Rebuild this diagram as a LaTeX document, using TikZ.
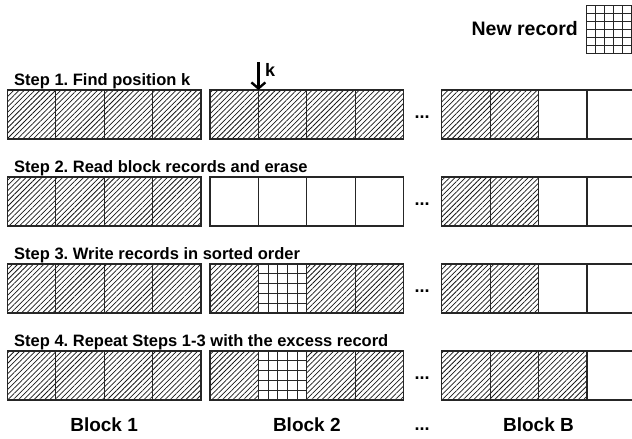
\documentclass[tikz,border=0pt]{standalone}
\usepackage{fontspec}
\setmainfont{Liberation Sans}
\frenchspacing
\usetikzlibrary{patterns.meta,calc,arrows.meta}
\tikzset{
  cellbox/.style={draw=black!85, line width=1.2pt, minimum width=48.4pt, minimum height=49pt,
    inner sep=0pt, outer sep=0pt, anchor=north west},
  hatch/.style={cellbox, pattern={Lines[angle=45,distance=3.7pt,line width=0.75pt]}, pattern color=black!90},
  gridfill/.style={cellbox, path picture={
    \foreach \i in {1,2,3,4}{
      \draw[line width=0.8pt, black!85]
        ($(path picture bounding box.south west)!\i/5!(path picture bounding box.south east)$) --
        ($(path picture bounding box.north west)!\i/5!(path picture bounding box.north east)$);
      \draw[line width=0.8pt, black!85]
        ($(path picture bounding box.south west)!\i/5!(path picture bounding box.north west)$) --
        ($(path picture bounding box.south east)!\i/5!(path picture bounding box.north east)$);
    }}},
  steplabel/.style={font=\fontsize{16.5}{18}\selectfont\bfseries, anchor=base west, inner sep=0pt},
  blocklabel/.style={font=\fontsize{19}{20}\selectfont\bfseries, inner sep=0pt},
  dotslabel/.style={font=\fontsize{18}{18}\selectfont\bfseries, inner sep=0pt},
  lastcell/.style={cellbox, minimum width=54pt},
}
\begin{document}
\begin{tikzpicture}[x=1pt,y=-1pt]
\useasboundingbox (0,0) rectangle (632,439);
\begin{scope}
\clip (0,0) rectangle (632,439);
% New record
\node[cellbox, minimum width=54pt, minimum height=47.5pt, line width=1.1pt] (nr) at (586.5,5.7) {};
\foreach \i in {1,...,5}{
  \draw[line width=0.8pt, black!85] ($(nr.north west)+(\i*9,0)$) -- ($(nr.south west)+(\i*9,0)$);
}
\foreach \i in {1,...,5}{
  \draw[line width=0.8pt, black!85] ($(nr.north west)+(0,\i*7.9)$) -- ($(nr.north east)+(0,\i*7.9)$);
}
\node[font=\fontsize{19.5}{22}\selectfont\bfseries, anchor=east, inner sep=0pt] (nrlabel) at (578,29) {New record};
% rows
\foreach \r/\y/\lab in {
  1/90/{Step 1. Find position k},
  2/177/{Step 2. Read block records and erase},
  3/264/{Step 3. Write records in sorted order},
  4/351/{Step 4. Repeat Steps 1-3 with the excess record}}{
  \node[steplabel] (s\r) at (14,\y-4.5) {\lab};
  % Block 1
  \foreach \c in {1,2,3,4}{
    \node[hatch] (r\r a\c) at (7.3+48.4*\c-48.4,\y) {};
  }
}
% Block 2
\node[hatch] (r1b1) at (210,90) {};
\node[hatch] (r1b2) at (258.4,90) {};
\node[hatch] (r1b3) at (306.8,90) {};
\node[hatch] (r1b4) at (355.2,90) {};
\node[cellbox] (r2b1) at (210,177) {};
\node[cellbox] (r2b2) at (258.4,177) {};
\node[cellbox] (r2b3) at (306.8,177) {};
\node[cellbox] (r2b4) at (355.2,177) {};
\node[hatch] (r3b1) at (210,264) {};
\node[gridfill] (r3b2) at (258.4,264) {};
\node[hatch] (r3b3) at (306.8,264) {};
\node[hatch] (r3b4) at (355.2,264) {};
\node[hatch] (r4b1) at (210,351) {};
\node[gridfill] (r4b2) at (258.4,351) {};
\node[hatch] (r4b3) at (306.8,351) {};
\node[hatch] (r4b4) at (355.2,351) {};
% Block B
\foreach \r/\y in {1/90,2/177,3/264}{
  \node[hatch] (r\r c1) at (441.7,\y) {};
  \node[hatch] (r\r c2) at (490.1,\y) {};
  \node[cellbox] (r\r c3) at (538.5,\y) {};
  \node[lastcell] (r\r c4) at (586.9,\y) {};
}
\node[hatch] (r4c1) at (441.7,351) {};
\node[hatch] (r4c2) at (490.1,351) {};
\node[hatch] (r4c3) at (538.5,351) {};
\node[lastcell] (r4c4) at (586.9,351) {};
% dots
\foreach \r/\y in {1/90,2/177,3/264,4/351}{
  \node[dotslabel] (d\r) at (422,\y+27) {...};
}
% arrow k
\coordinate (ktop) at (258.4,62);
\draw[line width=2.4pt, -{Straight Barb[length=6pt,width=14pt,line width=2.4pt]}] (ktop) -- (r1b2.north west);
\node[font=\fontsize{18}{20}\selectfont\bfseries, anchor=west, inner sep=0pt] (klab) at (265,70) {k};
% block labels
\node[blocklabel] (bl1) at (104.1,425) {Block 1};
\node[blocklabel] (bl2) at (306.8,425) {Block 2};
\node[dotslabel] (bld) at (422,429) {...};
\node[blocklabel] (blB) at (538.5,425) {Block B};
\end{scope}
\end{tikzpicture}
\end{document}
